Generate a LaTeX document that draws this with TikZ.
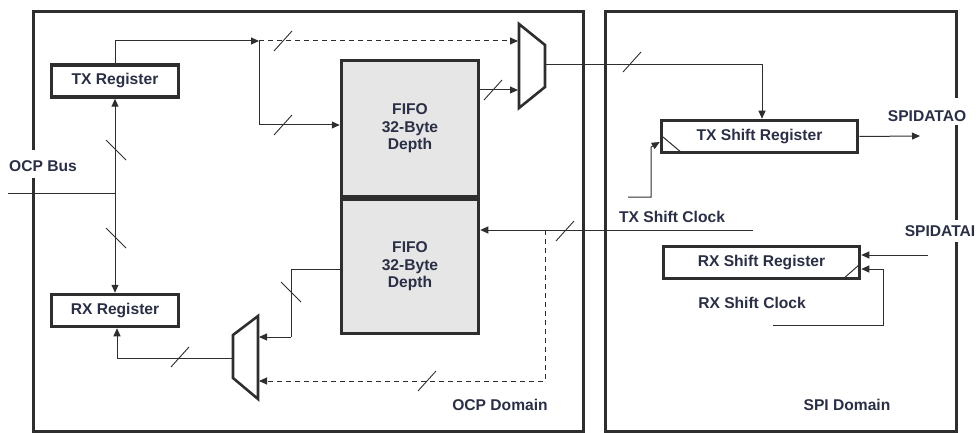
\documentclass[tikz,border=0pt]{standalone}
\usepackage{fontspec}
\setmainfont{Liberation Sans}
\usetikzlibrary{arrows.meta}
\definecolor{ln}{HTML}{2E2E2E}
\definecolor{tx}{HTML}{2A2F45}
\definecolor{ff}{HTML}{E6E6E6}
\newcommand\busf[1]{\draw[ln,line width=0.9pt] (#1) ++(-9,10) -- ++(18,-20);}
\newcommand\busb[1]{\draw[ln,line width=0.9pt] (#1) ++(-10,-10) -- ++(20,20);}
\begin{document}
\begin{tikzpicture}[x=1pt,y=-1pt,
  lbl/.style={inner sep=0pt,text=tx,font=\fontsize{15.6}{17.5}\selectfont\bfseries},
  reg/.style={draw=ln,line width=3.5pt,fill=white,inner sep=0pt,lbl},
  fifobox/.style={draw=ln,line width=3.5pt,fill=ff,inner sep=0pt,minimum width=137pt,align=center,lbl},
  dom/.style={draw=ln,line width=3pt},
  wire/.style={draw=ln,line width=1pt},
  arr/.style={wire,-{Triangle[length=8pt,width=7pt]}},
  darr/.style={arr,dash pattern=on 5pt off 4pt},
  muxs/.style={draw=ln,line width=2.6pt,fill=white,line join=miter}]
\useasboundingbox (0,0) rectangle (977,433);
% domains
\draw[dom] (33,150) -- (33,12) -- (583,12) -- (583,431) -- (33,431) -- (33,178);
\draw[dom] (956,98) -- (956,12) -- (605,12) -- (605,431) -- (956,431) -- (956,242);
\draw[dom] (956,125) -- (956,220);
% nodes
\node[reg,minimum width=127pt,minimum height=32pt] (txreg) at (115,81) {TX Register};
\node[reg,minimum width=127pt,minimum height=32pt] (rxreg) at (115,310.5) {RX Register};
\node[fifobox,minimum height=136pt] (fifo1) at (410,128.5) {FIFO\\32-Byte\\Depth};
\node[fifobox,minimum height=134pt] (fifo2) at (410,266.5) {FIFO\\32-Byte\\Depth};
\node[reg,minimum width=196pt,minimum height=32pt] (txsr) at (759.5,136.5) {TX Shift Register};
\node[reg,minimum width=196pt,minimum height=32pt] (rxsr) at (761.5,262.5) {RX Shift Register};
% muxes
\draw[muxs] (519,24) -- (545,45) -- (545,87) -- (519,108) -- cycle;
\draw[muxs] (258,316) -- (233,335) -- (233,378) -- (258,399) -- cycle;
\coordinate (m1in1) at (518,41);
\coordinate (m1in2) at (518,90);
\coordinate (m1out) at (546,65);
\coordinate (m2in1) at (259,337);
\coordinate (m2in2) at (259,381);
\coordinate (m2out) at (232,358);
% labels
\node[lbl,anchor=west] (ocpbus) at (9,166) {OCP Bus};
\node[lbl,anchor=west] (txclk) at (619,217) {TX Shift Clock};
\node[lbl] (rxclk) at (752,303) {RX Shift Clock};
\node[lbl] (ocpdom) at (500,405) {OCP Domain};
\node[lbl] (spidom) at (847,405) {SPI Domain};
\node[lbl] (sdo) at (927,116) {SPIDATAO};
\node[lbl] (sdi) at (940,231) {SPIDATAI};
% coordinates
\coordinate (busin) at (8,193);
\coordinate (busj) at (116,193);
\coordinate (j1) at (259,41);
\coordinate (j2) at (545,230);
\coordinate (rxs) at (753,230);
\coordinate (k1) at (291,337);
\coordinate (sdoend) at (920,136);
\coordinate (clk1) at (628,197);
\coordinate (clk1b) at (651,197);
\coordinate (clk1c) at (651,147);
\coordinate (sdiin) at (928,255);
\coordinate (clk2) at (773,325);
\coordinate (clk2b) at (883,325);
% wires
\draw[wire] (busin) -- (busj);
\draw[arr,{Triangle[length=8pt,width=7pt]}-{Triangle[length=8pt,width=7pt]}] (txreg.south) -- (rxreg.north);
\draw[arr] (txreg.north) |- (j1);
\draw[darr] (j1) -- (m1in1);
\draw[arr] (j1) |- ([yshift=3.5pt]fifo1.west);
\draw[arr] (fifo1.east |- m1in2) -- (m1in2);
\draw[arr] (m1out) -| ([xshift=2.5pt]txsr.north);
\draw[arr] (txsr.east) -- (sdoend);
\draw[arr] (clk1) -- (clk1b) -- (clk1c) -- ([yshift=-5.5pt]txsr.west);
\draw[wire] (663,137) -- (682,153);
\draw[arr] (rxs) -- (fifo2.east |- rxs);
\draw[darr] (j2) |- (m2in2);
\draw[wire] ([yshift=-2.5pt]fifo2.west) -| (k1);
\draw[arr] (k1) -- (m2in1);
\draw[arr] (m2out) -| ([xshift=2pt]rxreg.south);
\draw[arr] (sdiin) -- ([yshift=7.5pt]rxsr.east);
\draw[arr] (clk2) -- (clk2b) |- ([yshift=-6.5pt]rxsr.east);
\draw[wire] (843,279) -- (859,265);
% bus slashes
\busf{283,41}
\busf{283,125}
\busf{493,90}
\busf{632,62}
\busf{565,231}
\busf{427,381}
\busf{180,357}
\busb{116,150}
\busb{116,238}
\busb{291,292}
\end{tikzpicture}
\end{document}
